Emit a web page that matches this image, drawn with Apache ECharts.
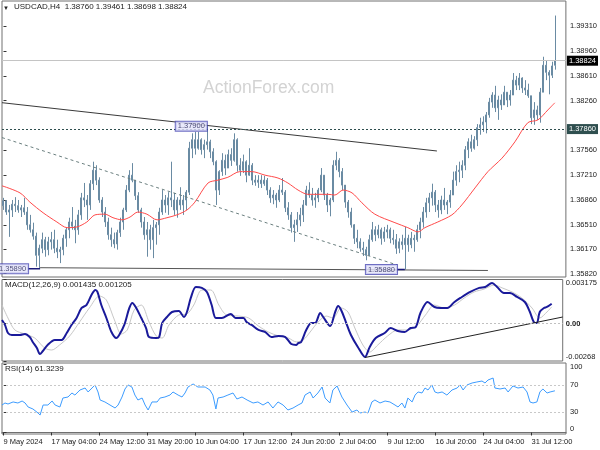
<!DOCTYPE html>
<html><head><meta charset="utf-8">
<script src="https://cdn.jsdelivr.net/npm/echarts@6/dist/echarts.min.js"></script>
<style>html,body{margin:0;padding:0;background:#fff}#c{width:600px;height:450px}</style>
</head><body><div id="c"></div>
<script>
// ---- price bars (USDCAD H4, one entry per 2 bars) ----
const barOpen = [1.3678,1.3685,1.3669,1.3672,1.3680,1.3678,1.3672,1.3675,1.3669,1.3651,
1.3644,1.3635,1.3608,1.3618,1.3630,1.3616,1.3627,1.3630,1.3618,1.3613,
1.3616,1.3632,1.3644,1.3655,1.3649,1.3644,1.3665,1.3689,1.3686,1.3679,
1.3709,1.3728,1.3714,1.3686,1.3669,1.3655,1.3637,1.3630,1.3624,1.3640,
1.3655,1.3672,1.3700,1.3721,1.3714,1.3692,1.3672,1.3655,1.3637,1.3644,
1.3630,1.3647,1.3651,1.3669,1.3686,1.3679,1.3689,1.3686,1.3672,1.3686,
1.3679,1.3686,1.3697,1.3759,1.3771,1.3759,1.3771,1.3757,1.3764,1.3768,
1.3754,1.3740,1.3700,1.3726,1.3742,1.3731,1.3750,1.3742,1.3771,1.3735,
1.3728,1.3740,1.3721,1.3735,1.3714,1.3711,1.3714,1.3709,1.3714,1.3700,
1.3689,1.3693,1.3686,1.3700,1.3697,1.3675,1.3665,1.3647,1.3651,1.3658,
1.3665,1.3679,1.3700,1.3693,1.3686,1.3689,1.3700,1.3721,1.3693,1.3679,
1.3686,1.3735,1.3742,1.3726,1.3707,1.3683,1.3669,1.3651,1.3632,1.3627,
1.3618,1.3616,1.3608,1.3630,1.3644,1.3637,1.3644,1.3632,1.3641,1.3644,
1.3632,1.3630,1.3618,1.3627,1.3623,1.3632,1.3623,1.3632,1.3630,1.3644,
1.3655,1.3669,1.3682,1.3689,1.3697,1.3679,1.3672,1.3686,1.3679,1.3683,
1.3693,1.3714,1.3726,1.3728,1.3735,1.3757,1.3768,1.3759,1.3771,1.3788,
1.3792,1.3796,1.3806,1.3824,1.3834,1.3816,1.3827,1.3820,1.3838,1.3827,
1.3834,1.3855,1.3848,1.3858,1.3844,1.3841,1.3833,1.3802,1.3813,1.3806,
1.3838,1.3876,1.3866,1.3862,1.38760];
const barClose = [1.3685,1.3669,1.3672,1.3680,1.3678,1.3672,1.3675,1.3669,1.3651,1.3644,
1.3635,1.3608,1.3618,1.3630,1.3616,1.3627,1.3630,1.3618,1.3613,1.3616,
1.3632,1.3644,1.3655,1.3649,1.3644,1.3665,1.3689,1.3686,1.3679,1.3709,
1.3728,1.3714,1.3686,1.3669,1.3655,1.3637,1.3630,1.3624,1.3640,1.3655,
1.3672,1.3700,1.3721,1.3714,1.3692,1.3672,1.3655,1.3637,1.3644,1.3630,
1.3647,1.3651,1.3669,1.3686,1.3679,1.3689,1.3686,1.3672,1.3686,1.3679,
1.3686,1.3697,1.3759,1.3771,1.3759,1.3771,1.3757,1.3764,1.3768,1.3754,
1.3740,1.3700,1.3726,1.3742,1.3731,1.3750,1.3742,1.3771,1.3735,1.3728,
1.3740,1.3721,1.3735,1.3714,1.3711,1.3714,1.3709,1.3714,1.3700,1.3689,
1.3693,1.3686,1.3700,1.3697,1.3675,1.3665,1.3647,1.3651,1.3658,1.3665,
1.3679,1.3700,1.3693,1.3686,1.3689,1.3700,1.3721,1.3693,1.3679,1.3686,
1.3735,1.3742,1.3726,1.3707,1.3683,1.3669,1.3651,1.3632,1.3627,1.3618,
1.3616,1.3608,1.3630,1.3644,1.3637,1.3644,1.3632,1.3641,1.3644,1.3632,
1.3630,1.3618,1.3627,1.3623,1.3632,1.3623,1.3632,1.3630,1.3644,1.3655,
1.3669,1.3682,1.3689,1.3697,1.3679,1.3672,1.3686,1.3679,1.3683,1.3693,
1.3714,1.3726,1.3728,1.3735,1.3757,1.3768,1.3759,1.3771,1.3788,1.3792,
1.3796,1.3806,1.3824,1.3834,1.3816,1.3827,1.3820,1.3838,1.3827,1.3834,
1.3855,1.3848,1.3858,1.3844,1.3841,1.3833,1.3802,1.3813,1.3806,1.3838,
1.3876,1.3866,1.3862,1.3875,1.38824];
const barLow = [1.3672,1.3665,1.3634,1.3662,1.3669,1.3668,1.3662,1.3665,1.3644,1.3640,
1.3630,1.3592,1.3589,1.3611,1.3606,1.3608,1.3616,1.3611,1.3604,1.3597,
1.3608,1.3620,1.3632,1.3644,1.3625,1.3637,1.3658,1.3676,1.3658,1.3672,
1.3700,1.3707,1.3682,1.3662,1.3648,1.3630,1.3620,1.3618,1.3616,1.3634,
1.3644,1.3669,1.3697,1.3711,1.3686,1.3668,1.3647,1.3630,1.3606,1.3616,
1.3604,1.3623,1.3637,1.3665,1.3668,1.3665,1.3676,1.3665,1.3661,1.3672,
1.3665,1.3672,1.3693,1.3745,1.3750,1.3757,1.3750,1.3745,1.3757,1.3745,
1.3735,1.3679,1.3693,1.3720,1.3721,1.3731,1.3734,1.3740,1.3726,1.3720,
1.3724,1.3711,1.3720,1.3707,1.3706,1.3703,1.3703,1.3706,1.3693,1.3682,
1.3680,1.3675,1.3683,1.3693,1.3669,1.3658,1.3640,1.3627,1.3641,1.3649,
1.3655,1.3678,1.3689,1.3678,1.3675,1.3683,1.3697,1.3686,1.3669,1.3663,
1.3683,1.3728,1.3718,1.3700,1.3675,1.3661,1.3647,1.3624,1.3618,1.3613,
1.3607,1.3601,1.3607,1.3627,1.3628,1.3632,1.3623,1.3627,1.3632,1.3625,
1.3623,1.3610,1.3611,1.3616,1.3588,1.3613,1.3618,1.3613,1.3627,1.3632,
1.3647,1.3661,1.3669,1.3678,1.3669,1.3661,1.3666,1.3672,1.3666,1.3675,
1.3693,1.3706,1.3711,1.3717,1.3728,1.3745,1.3754,1.3757,1.3762,1.3778,
1.3782,1.3780,1.3802,1.3816,1.3810,1.3799,1.3813,1.3820,1.3817,1.3819,
1.3834,1.3841,1.3841,1.3837,1.3834,1.3830,1.3793,1.3792,1.3799,1.3795,
1.3838,1.3855,1.3835,1.3858,1.38698];
const barHigh = [1.3689,1.3686,1.3679,1.3686,1.3690,1.3686,1.3679,1.3689,1.3676,1.3665,
1.3654,1.3640,1.3623,1.3640,1.3634,1.3634,1.3641,1.3644,1.3630,1.3620,
1.3637,1.3647,1.3661,1.3676,1.3658,1.3672,1.3696,1.3710,1.3693,1.3714,
1.3740,1.3735,1.3718,1.3690,1.3676,1.3661,1.3647,1.3640,1.3644,1.3661,
1.3675,1.3707,1.3728,1.3738,1.3714,1.3697,1.3675,1.3662,1.3655,1.3651,
1.3658,1.3655,1.3675,1.3700,1.3693,1.3697,1.3740,1.3696,1.3690,1.3704,
1.3693,1.3700,1.3768,1.3780,1.3782,1.3782,1.3773,1.3771,1.3790,1.3771,
1.3759,1.3742,1.3728,1.3752,1.3750,1.3757,1.3759,1.3780,1.3773,1.3745,
1.3750,1.3742,1.3759,1.3738,1.3721,1.3721,1.3721,1.3720,1.3717,1.3704,
1.3700,1.3696,1.3707,1.3717,1.3700,1.3683,1.3669,1.3658,1.3669,1.3675,
1.3686,1.3706,1.3711,1.3703,1.3696,1.3703,1.3731,1.3721,1.3696,1.3689,
1.3742,1.3754,1.3745,1.3731,1.3707,1.3686,1.3675,1.3652,1.3644,1.3632,
1.3627,1.3620,1.3637,1.3655,1.3649,1.3651,1.3647,1.3648,1.3651,1.3647,
1.3644,1.3638,1.3632,1.3637,1.3648,1.3637,1.3641,1.3637,1.3651,1.3661,
1.3676,1.3689,1.3696,1.3709,1.3700,1.3686,1.3692,1.3703,1.3686,1.3700,
1.3726,1.3735,1.3740,1.3742,1.3762,1.3773,1.3778,1.3776,1.3793,1.3802,
1.3804,1.3810,1.3830,1.3838,1.3847,1.3833,1.3835,1.3847,1.3838,1.3841,
1.3865,1.3861,1.3865,1.3859,1.3855,1.3850,1.3833,1.3824,1.3819,1.3844,
1.3888,1.3883,1.3869,1.3881,1.39461];

// ---- moving average (bar position, value) ----
const maIdx = [-0.5,5.5,8.8,13.2,17.8,21.2,24.5,27.8,30.5,33.8,36.5,39.5,42.2,44.8,47.8,51.2,54.5,57.8,61.2,63.8,68.2,71.5,74.8,78.8,82.8,87.2,91.5,94.8,98.2,101.5,104.8,108.2,110.5,113.2,116.2,119.5,123.8,130.5,134.8,138.2,140.5,144.8,149.5,152.8,157.2,161.5,166.2,170.5,174.8,178.2,181.5,183.8];
const maVal = [1.3706,1.3696,1.3683,1.3668,1.3655,1.3647,1.3648,1.3655,1.3665,1.3666,1.3661,1.3658,1.3662,1.3669,1.3666,1.3658,1.3661,1.3665,1.3672,1.3683,1.3710,1.3714,1.3718,1.3726,1.3726,1.3721,1.3717,1.3710,1.3700,1.3694,1.3694,1.3694,1.3693,1.3700,1.3696,1.3682,1.3666,1.3654,1.3647,1.3641,1.3647,1.3655,1.3665,1.3679,1.3703,1.3726,1.3745,1.3768,1.3795,1.3799,1.3813,1.3823];

// ---- drawn objects on the price panel ----
const upperLineIdx = [-0.5, 144.5], upperLinePrice = [1.38232, 1.37551];
const channelIdx = [-0.5, 131.2], channelPrice = [1.37740, 1.35944];
const supportIdx = [12.2, 161.5], supportPrice = [1.35905, 1.35866];
const noteIdx = [8.2, 131.2, 67.8], notePrice = [1.35890, 1.35880, 1.37900];
const noteLink1Idx = [8.2, 12.2], noteLink2Idx = [131.2, 133.8];
const levelPrice = 1.37860, bidPrice = 1.38824;
const priceTicks = [1.3582,1.3617,1.3651,1.3686,1.3721,1.3756,1.3826,1.3861,1.3896,1.3931];

// ---- MACD ----
const macdIdx = [-0.5,0.5,1.5,2.8,5.5,7.2,8.8,9.8,11.2,12.2,13.2,14.8,17.2,19.5,21.2,22.8,24.5,26.2,27.8,29.5,30.8,31.5,32.8,34.5,36.2,37.8,38.8,40.5,42.2,43.2,44.5,46.2,47.8,48.8,51.2,52.2,53.2,54.8,56.5,58.8,60.5,61.5,62.8,64.5,66.5,68.2,69.8,71.2,73.2,76.2,77.8,80.5,81.5,83.2,85.5,87.8,89.8,92.2,94.5,96.5,98.2,98.8,99.8,101.5,103.2,104.5,106.2,107.2,109.5,111.2,112.2,113.2,114.8,116.5,118.8,121.2,122.8,124.8,127.8,129.8,132.2,134.5,136.5,138.2,139.8,142.2,144.5,146.5,148.8,151.2,153.2,156.5,159.5,161.5,163.8,165.5,167.8,169.8,172.2,174.8,176.5,177.8,178.8,179.8,181.2,182.2,183.8];
const macdVal = [0.00027,-0.00009,-0.00067,-0.00081,-0.00081,-0.00074,-0.00096,-0.00131,-0.00175,-0.00218,
-0.00196,-0.00153,-0.00117,-0.00117,-0.00067,-0.00009,0.00041,0.00113,0.00134,0.00206,
0.00242,0.00228,0.00134,0.00041,-0.00060,-0.00103,-0.00081,-0.00009,0.00113,0.00149,
0.00113,0.00041,-0.00031,-0.00096,-0.00103,-0.00096,0.00005,0.00048,0.00084,0.00091,
0.00048,0.00084,0.00185,0.00264,0.00257,0.00228,0.00134,0.00041,0.00041,0.00070,
0.00041,0.00041,0.00012,-0.00009,-0.00045,-0.00060,-0.00096,-0.00088,-0.00096,-0.00146,
-0.00153,-0.00139,-0.00131,-0.00045,0.00005,0.00005,0.00077,0.00048,-0.00017,0.00084,
0.00127,0.00098,0.00012,-0.00081,-0.00167,-0.00239,-0.00167,-0.00103,-0.00067,-0.00031,
-0.00052,-0.00060,-0.00031,-0.00024,0.00077,0.00156,0.00120,0.00113,0.00113,0.00156,
0.00185,0.00228,0.00257,0.00264,0.00292,0.00264,0.00221,0.00221,0.00192,0.00156,
0.00084,0.00012,0.00005,0.00084,0.00113,0.00120,0.001435];
const sigIdx = [-0.5,1.5,3.8,7.2,10.5,13.8,16.2,18.8,22.2,25.5,28.8,32.2,34.5,37.2,39.5,41.5,43.8,46.2,48.8,51.2,53.2,55.5,58.8,61.5,63.8,66.5,69.5,72.2,74.8,78.8,82.2,85.5,88.8,92.2,95.5,98.2,100.5,102.8,105.5,108.2,110.5,113.2,115.5,117.8,120.5,122.8,125.5,128.8,132.2,135.5,138.8,141.5,144.5,147.8,151.2,154.5,157.8,161.2,164.5,167.2,170.5,173.8,177.2,179.8,182.2,183.8];
const sigVal = [0.00134,0.00041,-0.00045,-0.00074,-0.00103,-0.00175,-0.00189,-0.00153,-0.00088,0.00012,
0.00113,0.00199,0.00170,0.00027,-0.00074,-0.00045,0.00098,0.00134,0.00012,-0.00088,
-0.00103,-0.00009,0.00063,0.00070,0.00134,0.00242,0.00242,0.00134,0.00063,0.00055,
0.00041,-0.00017,-0.00060,-0.00088,-0.00103,-0.00131,-0.00117,-0.00060,0.00012,0.00055,
0.00041,0.00113,0.00084,-0.00031,-0.00153,-0.00203,-0.00153,-0.00088,-0.00045,-0.00045,
-0.00009,0.00063,0.00134,0.00113,0.00134,0.00185,0.00228,0.00249,0.00278,0.00257,
0.00228,0.00185,0.00113,0.00041,0.00084,0.001205];
const macdTrendIdx = [121.2, 187.5], macdTrendVal = [-0.00243, 0.00048];
const macdTicks = [-0.00268, 0, 0.003175];

// ---- RSI ----
const rsiIdx = [-0.5,0.5,1.5,3.2,4.8,6.2,7.2,8.2,9.8,11.5,12.2,13.2,14.8,16.2,17.2,18.8,19.8,21.5,22.8,23.8,25.5,27.2,28.2,29.5,30.5,31.5,32.2,33.8,35.5,37.2,38.2,39.5,40.5,41.5,42.8,43.8,44.8,46.2,47.2,48.2,49.5,51.2,52.2,53.8,55.5,56.5,58.2,59.5,60.5,61.5,63.2,64.8,67.2,68.8,69.8,70.8,71.5,73.2,74.8,76.5,77.8,79.5,81.2,83.2,84.8,86.5,88.2,89.8,91.5,93.2,94.8,96.5,98.2,99.5,100.5,102.2,103.2,104.8,106.2,107.2,108.8,109.8,111.2,112.8,114.5,116.2,117.8,118.8,120.5,121.5,122.8,123.8,125.5,127.2,128.8,130.5,131.5,132.8,133.8,134.8,136.2,137.2,138.2,139.5,140.5,141.5,142.8,143.8,144.8,146.2,147.8,149.5,151.2,152.2,153.2,154.5,156.2,157.8,159.5,160.5,161.5,163.2,163.8,165.5,167.2,168.2,169.8,171.5,173.2,174.5,175.5,176.5,177.8,178.8,179.8,181.2,182.2,183.8];
const rsiVal = [40.4,43.4,41.9,44.9,43.4,46.3,43.4,37.5,34.6,28.7,25.7,40.4,40.4,46.3,40.4,37.5,50.7,52.2,58.1,55.1,62.5,65.4,59.6,65.4,69.9,59.6,47.8,44.9,40.4,36.0,40.4,52.2,64.0,69.9,66.9,55.1,47.8,50.7,40.4,33.1,44.9,44.9,50.7,52.2,55.1,59.6,55.1,52.2,58.1,66.9,71.3,66.9,66.9,62.5,55.1,34.6,50.7,52.2,55.1,58.1,49.3,52.2,47.8,43.4,44.9,40.4,44.9,36.0,44.9,40.4,33.1,36.0,40.4,43.4,55.1,59.6,50.7,58.1,66.9,50.7,43.4,62.5,68.4,52.2,40.4,30.1,33.1,28.7,30.1,28.7,44.9,47.8,43.4,46.3,44.9,40.4,37.5,43.4,36.0,50.7,44.9,55.1,59.6,58.1,65.4,62.5,69.9,59.6,58.1,59.6,55.1,62.5,65.4,69.9,62.5,69.9,72.8,74.3,75.7,72.8,77.2,80.1,65.4,64.0,65.4,59.6,68.4,65.4,66.9,59.6,44.9,43.4,44.9,59.6,64.0,58.1,59.6,61.32];
const rsiLevels = [70, 30];
const rsiTicks = [0, 30, 70, 100];

// ---- time axis ----
const timeTickIdx = [0,16,32,48,64,80,96,112,128,144,160,176];
const timeLabels = ['9 May 2024','17 May 04:00','24 May 12:00','31 May 20:00','10 Jun 04:00','17 Jun 12:00','24 Jun 20:00','2 Jul 04:00','9 Jul 12:00','16 Jul 20:00','24 Jul 04:00','31 Jul 12:00'];

const FONT = '"Liberation Sans", Arial, sans-serif';
const zip = (a, b) => a.map((x, i) => [x, b[i]]);
const cats = Array.from({length: 188}, (_, i) => String(i));
const candles = barOpen.map((o, i) => [o, barClose[i], barLow[i], barHigh[i]]);
const BAR = '#6a8ba3';
const frame = {show: true, borderColor: '#707070', borderWidth: 1};
const lab = {fontSize: 7.5, color: '#1a1a1a', fontFamily: FONT};
const hiddenX = (g) => ({type: 'value', gridIndex: g, min: -0.5, max: 187.5, show: false});
const plain = (extra) => Object.assign({type: 'line', symbol: 'none', silent: true, animation: false}, extra);

const chart = echarts.init(document.getElementById('c'));
chart.setOption({
  animation: false,
  backgroundColor: '#ffffff',
  textStyle: {fontFamily: FONT},
  graphic: [
    {type: 'text', left: 3, top: 5, z: 10, style: {text: '▼', fontSize: 6, fill: '#222', font: '6px "DejaVu Sans"'}},
    {type: 'text', left: 14, top: 3, z: 10, style: {text: 'USDCAD,H4  1.38760 1.39461 1.38698 1.38824', font: '8px ' + FONT, fill: '#222'}},
    {type: 'text', left: 203, top: 79, z: 0, style: {text: 'ActionForex.com', font: '17.5px ' + FONT, fill: '#d3d3d3'}},
    {type: 'text', left: 5, top: 281, z: 10, style: {text: 'MACD(12,26,9) 0.001435 0.001205', font: '8px ' + FONT, fill: '#222'}},
    {type: 'text', left: 5, top: 365, z: 10, style: {text: 'RSI(14) 61.3239', font: '8px ' + FONT, fill: '#222'}}
  ],
  grid: [
    Object.assign({left: 2, top: 1, width: 564, height: 276}, frame),
    Object.assign({left: 2, top: 279.5, width: 564, height: 81.5}, frame),
    Object.assign({left: 2, top: 363, width: 564, height: 71}, frame)
  ],
  xAxis: [
    {type: 'category', gridIndex: 0, data: cats, boundaryGap: true, show: false},
    hiddenX(0), hiddenX(1),
    {type: 'value', gridIndex: 2, min: -0.5, max: 187.5,
     splitLine: {show: false},
     axisLine: {show: true, lineStyle: {color: '#707070'}},
     axisTick: {show: true, customValues: timeTickIdx, length: 3, lineStyle: {color: '#333'}},
     axisLabel: Object.assign({customValues: timeTickIdx, align: 'left', margin: 4,
       formatter: v => timeLabels[timeTickIdx.indexOf(Math.round(v))] || ''}, lab)}
  ],
  yAxis: [
    {type: 'value', gridIndex: 0, position: 'right', min: 1.35774, max: 1.39666,
     splitLine: {show: false}, axisLine: {show: false},
     axisTick: {show: true, customValues: priceTicks, length: 3, lineStyle: {color: '#333'}},
     axisLabel: Object.assign({customValues: priceTicks, margin: 4, formatter: v => v.toFixed(5)}, lab)},
    {type: 'value', gridIndex: 1, position: 'right', min: -0.00268, max: 0.003175,
     splitLine: {show: false}, axisLine: {show: false},
     axisTick: {show: true, customValues: macdTicks, length: 3, lineStyle: {color: '#333'}},
     axisLabel: Object.assign({customValues: macdTicks, margin: 3,
       formatter: v => v > 0.003 ? '{t|0.003175}' : (v < -0.002 ? '{b|-0.00268}' : '{m|0.00}'),
       rich: {t: {padding: [7, 0, 0, 0], fontSize: 7.5}, b: {padding: [0, 0, 8, 0], fontSize: 7.5}, m: {fontSize: 7.5, fontWeight: 'bold'}}}, lab)},
    {type: 'value', gridIndex: 2, position: 'right', min: -2.2, max: 102.2,
     splitLine: {show: false}, axisLine: {show: false},
     axisTick: {show: true, customValues: rsiTicks, length: 3, lineStyle: {color: '#333'}},
     axisLabel: Object.assign({customValues: rsiTicks, margin: 4,
       formatter: v => v === 100 ? '{t|100}' : (v === 0 ? '{b|0}' : String(v)),
       rich: {t: {padding: [5, 0, 0, 0], fontSize: 7.5}, b: {padding: [0, 0, 7, 0], fontSize: 7.5}}}, lab)}
  ],
  series: [
    {type: 'candlestick', xAxisIndex: 0, yAxisIndex: 0, data: candles, barWidth: 1.5, silent: true,
     itemStyle: {color: BAR, color0: BAR, borderColor: BAR, borderColor0: BAR, borderWidth: 1},
     markLine: {silent: true, symbol: ['none', 'none'], animation: false, precision: 5, data: [
       {yAxis: levelPrice, lineStyle: {color: '#2f4f4f', type: [2, 2], width: 1},
        label: {show: true, position: 'end', distance: 1, formatter: () => levelPrice.toFixed(5), color: '#ffffff', backgroundColor: '#2f4f4f', padding: [1, 2, 1, 2], fontSize: 7.5, fontFamily: FONT}},
       {yAxis: bidPrice, lineStyle: {color: '#c4c4c4', type: 'solid', width: 1},
        label: {show: true, position: 'end', distance: 1, formatter: () => bidPrice.toFixed(5), color: '#ffffff', backgroundColor: '#000000', padding: [1, 2, 1, 2], fontSize: 7.5, fontFamily: FONT}}
     ]}},
    plain({xAxisIndex: 1, yAxisIndex: 0, data: zip(maIdx, maVal), smooth: 0.3, lineStyle: {color: '#ff4a4a', width: 1}}),
    plain({xAxisIndex: 1, yAxisIndex: 0, data: zip(upperLineIdx, upperLinePrice), lineStyle: {color: '#3a3a3a', width: 1}}),
    plain({xAxisIndex: 1, yAxisIndex: 0, data: zip(channelIdx, channelPrice), lineStyle: {color: '#6b7f7f', width: 1, type: [3, 3]}}),
    plain({xAxisIndex: 1, yAxisIndex: 0, data: zip(supportIdx, supportPrice), lineStyle: {color: '#555555', width: 1}}),
    plain({xAxisIndex: 1, yAxisIndex: 0, data: noteLink1Idx.map(x => [x, notePrice[0]]), lineStyle: {color: '#1b1b7a', width: 1.5}}),
    plain({xAxisIndex: 1, yAxisIndex: 0, data: noteLink2Idx.map(x => [x, notePrice[1]]), lineStyle: {color: '#1b1b7a', width: 1.5}}),
    {type: 'scatter', xAxisIndex: 1, yAxisIndex: 0, symbolSize: 0, silent: true, animation: false, z: 5,
     data: zip(noteIdx, notePrice),
     label: {show: true, position: 'left', distance: 0, formatter: p => p.value[1].toFixed(5),
       fontSize: 7.5, fontFamily: FONT, color: '#26265a', backgroundColor: '#e4e4fa', borderColor: '#4a4ab4', borderWidth: 1, padding: [1, 2, 0, 2]}},
    plain({xAxisIndex: 2, yAxisIndex: 1, data: zip(sigIdx, sigVal), smooth: 0.3, lineStyle: {color: '#c8c8c8', width: 1},
      markLine: {silent: true, symbol: ['none', 'none'], animation: false, label: {show: false},
        lineStyle: {color: '#c0c0c0', type: [2, 2], width: 1}, data: [{yAxis: 0}]}}),
    plain({xAxisIndex: 2, yAxisIndex: 1, data: zip(macdIdx, macdVal), smooth: 0.3, lineStyle: {color: '#1a1a9a', width: 2}}),
    plain({xAxisIndex: 2, yAxisIndex: 1, data: zip(macdTrendIdx, macdTrendVal), lineStyle: {color: '#222222', width: 1}}),
    plain({xAxisIndex: 3, yAxisIndex: 2, data: zip(rsiIdx, rsiVal), lineStyle: {color: '#3c9cff', width: 1},
      markLine: {silent: true, symbol: ['none', 'none'], animation: false, label: {show: false},
        lineStyle: {color: '#c8c8c8', type: [2, 2], width: 1}, data: rsiLevels.map(v => ({yAxis: v}))}})
  ]
});
</script></body></html>
